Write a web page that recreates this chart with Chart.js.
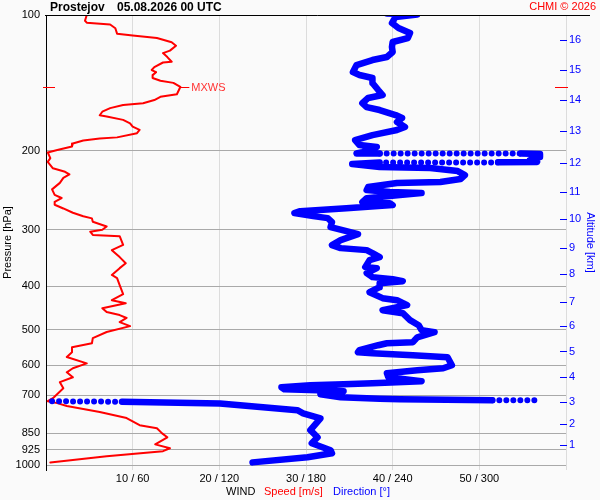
<!DOCTYPE html>
<html>
<head>
<meta charset="utf-8">
<script src="https://cdn.jsdelivr.net/npm/chart.js@4"></script>
<style>
  body { margin: 0; background: #fafafa; }
  canvas { display: block; }
</style>
</head>
<body>
<canvas id="c" width="600" height="500"></canvas>
<script>
// wind speed profile (m/s) against pressure (hPa)
const spdP = [100,103,104,105,107,110,111,112.5,115,117,120,121.5,124,127,127.5,130.5,132.5,134,136,138,140,141.5,144.5,150,152,154.5,157,158.5,161,164,167,168,171,174,177,180,183,187,188,190,193,196,199.5,202,208,212,219,223,226,230,236,244,251,255,260,264,269,275,280,283,288,295,300,303,308,310,324,333,345,356,365,378,384,398,417,430,437,448,457,464,471,481,491,506,522,536,547,561,575,594,609,622,638,654,675,692,710,721,728,739,762,786,815,828,850,867,899,917,931,955,986];
const spdV = [4.7,4.5,4.7,7.4,8.0,8.2,10.0,12.8,14.5,15.0,14.3,13.5,14.0,14.5,13.5,12.5,12.2,12.7,12.3,12.3,13.2,14.7,15.5,15.1,13.2,12.5,11.2,8.9,7.4,6.5,6.2,7.0,8.9,9.7,10.0,10.8,10.5,8.2,6.2,4.3,3.1,3.0,1.3,0.2,0.5,0.2,0.8,2.2,2.7,2.0,1.6,0.7,1.0,1.8,1.0,1.0,2.0,3.1,4.3,5.3,5.4,7.0,6.5,5.1,5.4,8.5,8.9,7.6,8.5,9.2,8.5,7.6,8.2,8.5,8.9,7.6,9.2,6.5,7.0,8.5,9.3,8.5,9.7,7.0,5.4,5.3,3.0,3.0,2.4,4.7,3.1,2.4,3.1,1.6,2.0,1.4,0.8,0.2,1.3,2.4,6.2,9.3,10.8,12.8,13.4,14.0,12.6,14.3,13.5,7.0,0.5];

// wind direction (deg) against pressure, null = break where the samples jump
const dirP = [99.3,99.8,101,104.2,106.9,109.6,112.5,114.8,117.8,120.8,124,125.9,129.2,133.9,135.9,138,141.6,146.8,150.6,152.9,157,160.2,162.6,166.8,169.4,172.9,177.4,180.1,184.8,189.6,194.5,196.5,199.5,201.6,203,203,
  null,203.2,203.7,206.8,210,212.1,212.5,
  null,212.7,214.4,217.7,218.8,222.2,226.8,231.4,234.9,236.1,241.1,244.9,247.4,248.7,251.2,255.2,260.4,261.8,264.4,268.6,272.7,275.5,279.7,282.6,288.4,295.9,302,306.7,316.3,324.5,329.5,332.9,338,345.1,350.4,363.1,365,374.5,382.2,386.1,390.2,394.2,402.3,412.8,425.6,430,441.1,452.6,459.6,476.3,488.7,501.3,506.5,519.9,533.2,535.9,541.4,555.4,561.2,564,569.8,575.6,599.8,609,615.3,624.8,637.8,650.9,657.6,661,664.4,671.2,678.1,681.6,685.1,695.7,706.5,711.9,714,717.4,
  null,723,729.6,755,767,787,836,867,894,926.6,941,960.5,985.8];
const dirD = [236,257,242,239.5,244,252,250.5,240,239.5,240,236,226,215,212.5,217,226,226,230,233,223,219,222,231,242,246.5,243,248.5,243,226,214,217,229,224,219,215,231,
  null,329,342,342,335,340,313,
  null,231,212,231,266,285,290,287,273,243,223,222,238,260,245,222,219,238,240,208,176,172,185,195,198,197,208,216,204,198,204,222,226,231,224,221,229,222,226,240,247,231,231,224,233,243,250,233,247,252,258,260,269,257,254,236,230,217,216,226,254,278,281,275,257,236,237,260,226,206,183,163,165,188,206,190,204,231,245,309,
  null,52.6,120.5,174,178,190,183,188,184,197,198,181,143];

// sparse samples across the jumps (drawn dotted)
const dotP = [203,203.2,null,212.5,212.7,null,717.4,717.8,null,721.1,723];
const dotD = [231,329,null,313,231,null,309,340,null,4.2,52.6];

// axes
const pTicks = [100,200,300,400,500,600,700,850,925,1000];
const kmP = [903,811,723.6,636.7,559.1,491.1,433.7,377,329,284.5,247.8,212.9,181,154.5,132.5,113.7];
const kmLabels = ['1','2','3','4','5','6','7','8','9','10','11','12','13','14','15','16'];
const xTicks = [0,10,20,30,40,50,60];
const xTickLabels = ['','10 / 60','20 / 120','30 / 180','40 / 240','50 / 300',''];

const FONT = '"Liberation Sans", Arial, sans-serif';
Chart.defaults.font.family = FONT;
Chart.defaults.font.size = 11;
Chart.defaults.color = '#000';

const pts = (ps, vs) => ps.map((p, i) => ({x: vs[i], y: p}));

const overlay = {
  id: 'overlay',
  afterDraw(chart) {
    const {ctx, chartArea: a, scales} = chart;
    ctx.save();
    ctx.lineWidth = 1;

    // top frame line
    ctx.strokeStyle = '#000';
    ctx.beginPath();
    ctx.moveTo(a.left - 1, a.top + 0.5);
    ctx.lineTo(590, a.top + 0.5);
    ctx.stroke();

    // altitude ticks inside the right edge
    ctx.strokeStyle = '#0000ff';
    scales.y2.ticks.forEach(t => {
      const y = Math.round(scales.y2.getPixelForValue(t.value)) + 0.5;
      ctx.beginPath();
      ctx.moveTo(a.right - 6, y);
      ctx.lineTo(a.right + 1, y);
      ctx.stroke();
    });

    // maximum wind marks
    const i = spdV.indexOf(Math.max(...spdV));
    const my = Math.round(scales.y.getPixelForValue(spdP[i])) + 0.5;
    const mx = scales.x.getPixelForValue(spdV[i]);
    ctx.strokeStyle = '#ff0000';
    ctx.beginPath();
    ctx.moveTo(a.left - 3, my); ctx.lineTo(a.left + 9, my);
    ctx.stroke();
    ctx.beginPath();
    ctx.moveTo(a.right - 11, my); ctx.lineTo(a.right + 2, my);
    ctx.stroke();
    ctx.beginPath();
    ctx.moveTo(mx, my); ctx.lineTo(mx + 9, my);
    ctx.stroke();
    ctx.font = '11px ' + FONT;
    ctx.textBaseline = 'middle';
    ctx.fillStyle = '#ff3333';
    ctx.fillText('MXWS', mx + 11, my);

    // header
    ctx.fillStyle = '#000';
    ctx.font = 'bold 12px ' + FONT;
    ctx.fillText('Prostejov', 50, 8);
    ctx.fillText('05.08.2026 00 UTC', 117, 8);
    ctx.font = '11px ' + FONT;
    ctx.textAlign = 'right';
    ctx.fillStyle = '#ff0000';
    ctx.fillText('CHMI \u00a9 2026', 596, 7);

    // bottom legend
    ctx.textAlign = 'left';
    ctx.fillStyle = '#000';
    ctx.fillText('WIND', 226, 492);
    ctx.fillStyle = '#ff0000';
    ctx.fillText('Speed [m/s]', 264, 492);
    ctx.fillStyle = '#0000ff';
    ctx.fillText('Direction [\u00b0]', 333, 492);
    ctx.restore();
  }
};

new Chart(document.getElementById('c'), {
  type: 'scatter',
  data: {
    datasets: [
      {
        label: 'Direction',
        data: pts(dirP, dirD),
        xAxisID: 'x2',
        showLine: true,
        spanGaps: false,
        borderColor: '#0000ff',
        borderWidth: 6.5,
        borderJoinStyle: 'round',
        borderCapStyle: 'round',
        pointRadius: 0
      },
      {
        label: 'Direction jumps',
        data: pts(dotP, dotD),
        xAxisID: 'x2',
        showLine: true,
        spanGaps: false,
        borderColor: '#0000ff',
        borderWidth: 6,
        borderCapStyle: 'round',
        borderDash: [0, 7],
        pointRadius: 0
      },
      {
        label: 'Speed',
        data: pts(spdP, spdV),
        showLine: true,
        borderColor: '#ff0000',
        borderWidth: 2,
        borderJoinStyle: 'round',
        borderCapStyle: 'round',
        pointRadius: 0
      }
    ]
  },
  options: {
    responsive: false,
    devicePixelRatio: 1,
    animation: false,
    layout: { padding: { top: 15 } },
    plugins: { legend: { display: false }, tooltip: { enabled: false } },
    scales: {
      x: {
        type: 'linear', min: 0, max: 60, position: 'bottom',
        afterFit: s => { s.height = 30; },
        afterBuildTicks: s => { s.ticks = xTicks.map(value => ({value})); },
        grid: { color: '#dcdcdc', drawTicks: false },
        border: { display: false },
        ticks: {
          padding: 2, maxRotation: 0, autoSkip: false,
          callback: (v, i) => xTickLabels[i]
        }
      },
      x2: { type: 'linear', min: 0, max: 360, display: false },
      y: {
        type: 'logarithmic', reverse: true, min: 100, max: 1025, position: 'left',
        afterFit: s => { s.width = 46; },
        afterBuildTicks: s => { s.ticks = pTicks.map(value => ({value})); },
        grid: { color: '#a9a9a9', drawTicks: false },
        border: { color: '#000', width: 1 },
        ticks: { padding: 6, autoSkip: false, callback: v => String(v) },
        title: { display: true, text: 'Pressure [hPa]', padding: { top: 1 } }
      },
      y2: {
        type: 'logarithmic', reverse: true, min: 100, max: 1025, position: 'right',
        afterFit: s => { s.width = 34; },
        afterBuildTicks: s => { s.ticks = kmP.map(value => ({value})); },
        grid: { drawOnChartArea: false, drawTicks: false },
        border: { display: false },
        ticks: { padding: 3, autoSkip: false, color: '#0000ff', callback: (v, i) => kmLabels[i] },
        title: { display: true, text: 'Altitude [km]', color: '#0000ff', padding: { top: 3 } }
      }
    }
  },
  plugins: [overlay]
});
</script>
</body>
</html>
